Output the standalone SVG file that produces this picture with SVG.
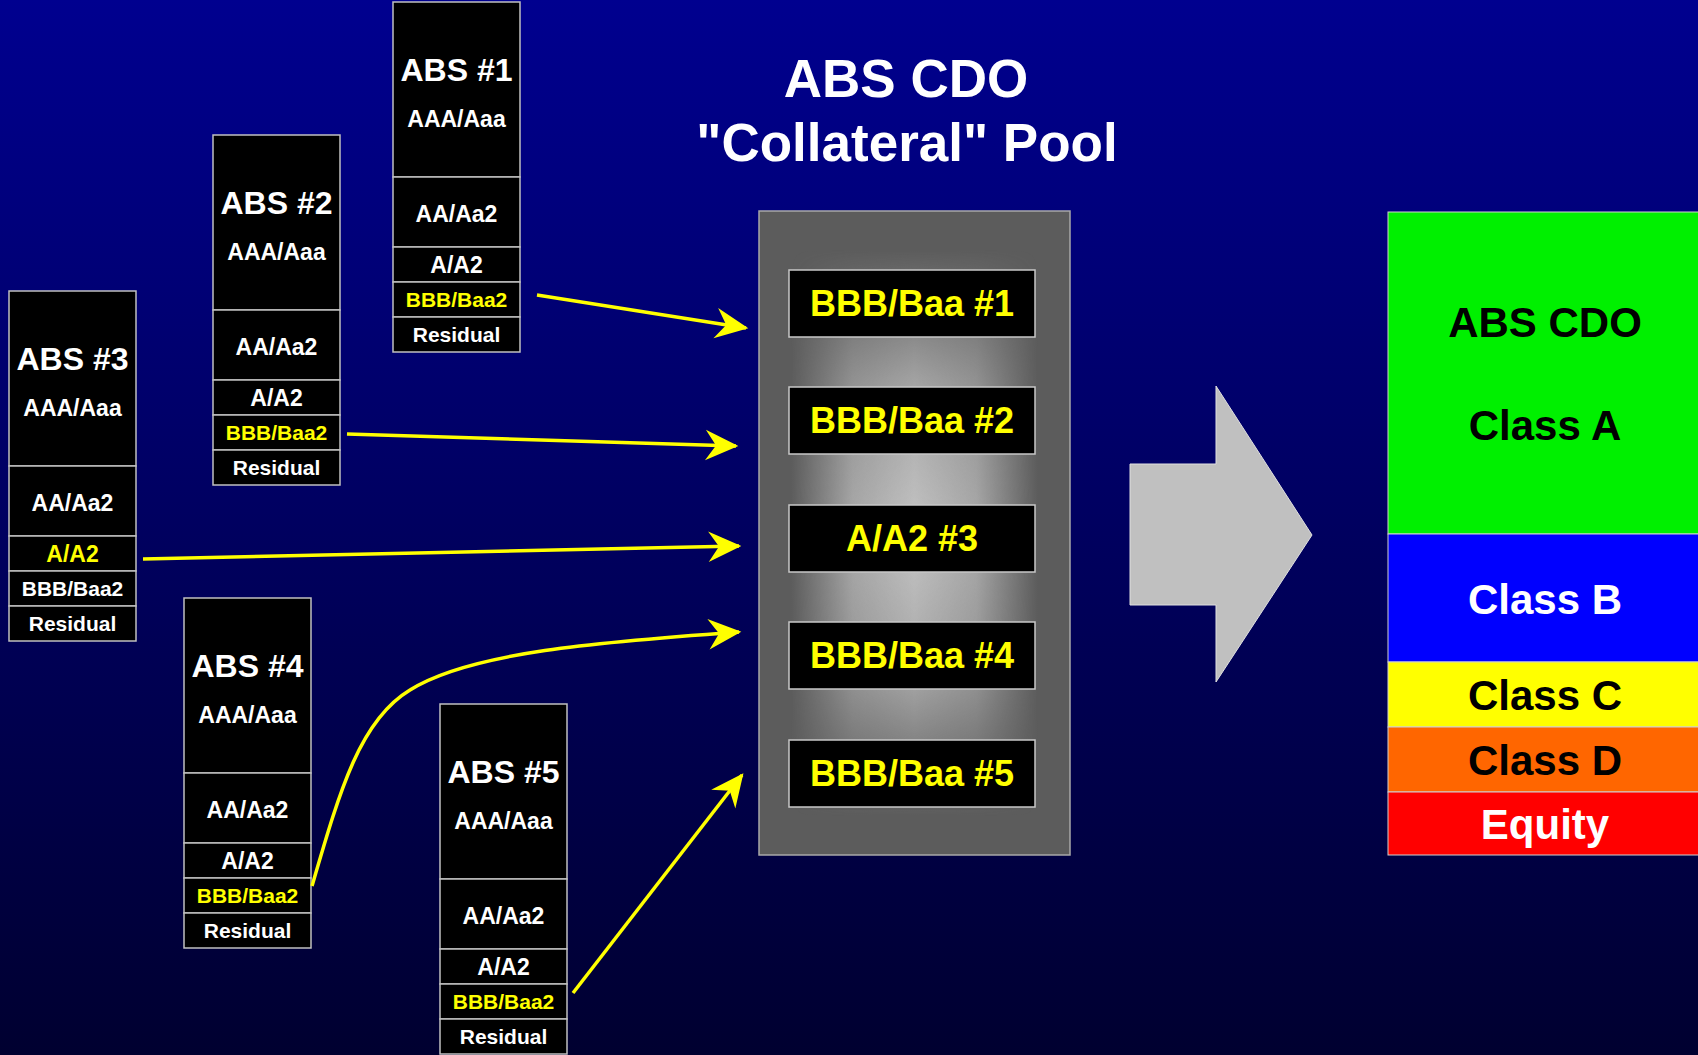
<svg xmlns="http://www.w3.org/2000/svg" width="1698" height="1055" viewBox="0 0 1698 1055">
<style>
text{font-family:"Liberation Sans",Arial,sans-serif;font-weight:bold;text-anchor:middle}
.sec{fill:#000;stroke:#c0c0c0;stroke-width:1.5}
.w{fill:#fff}
.y{fill:#ffff00}
.k{fill:#000}
.t32{font-size:32px}
.t23{font-size:23px}
.t21{font-size:21px}
.t36{font-size:36px}
.t42{font-size:42px}
.t53{font-size:53px}
.conn{fill:none;stroke:#ffff00;stroke-width:3.5;marker-end:url(#ah)}
.pbox{fill:#000;stroke:#c8c8c8;stroke-width:1.5}
.band{stroke:#d0d0d0;stroke-width:1}
</style>
<defs>
<linearGradient id="bg" x1="0" y1="0" x2="0" y2="1">
<stop offset="0" stop-color="#00008f"/>
<stop offset="1" stop-color="#000030"/>
</linearGradient>
<linearGradient id="hx" x1="0" y1="0" x2="1" y2="0">
<stop offset="0" stop-color="#c4c4c4" stop-opacity="0"/>
<stop offset="0.1" stop-color="#c4c4c4" stop-opacity="0"/>
<stop offset="0.3" stop-color="#c4c4c4" stop-opacity="0.75"/>
<stop offset="0.5" stop-color="#c4c4c4" stop-opacity="1"/>
<stop offset="0.7" stop-color="#c4c4c4" stop-opacity="0.75"/>
<stop offset="0.9" stop-color="#c4c4c4" stop-opacity="0"/>
<stop offset="1" stop-color="#c4c4c4" stop-opacity="0"/>
</linearGradient>
<linearGradient id="vy" x1="0" y1="0" x2="0" y2="1">
<stop offset="0" stop-color="#000"/>
<stop offset="0.06" stop-color="#000"/>
<stop offset="0.28" stop-color="#bbb"/>
<stop offset="0.5" stop-color="#fff"/>
<stop offset="0.72" stop-color="#bbb"/>
<stop offset="0.94" stop-color="#000"/>
<stop offset="1" stop-color="#000"/>
</linearGradient>
<mask id="pm" maskUnits="userSpaceOnUse" x="759" y="211" width="311" height="644">
<rect x="759" y="211" width="311" height="644" fill="url(#vy)"/>
</mask>
<marker id="ah" markerUnits="userSpaceOnUse" markerWidth="40" markerHeight="40" viewBox="-30 -15 34 30" refX="0" refY="0" orient="auto">
<path d="M2,0 L-26,-13 L-17,0 L-26,13 Z" fill="#ffff00"/>
</marker>
</defs>
<rect width="1698" height="1055" fill="url(#bg)"/>

<g id="title">
<text class="w t53" x="906" y="97">ABS CDO</text>
<text class="w t53" x="907" y="161">"Collateral" Pool</text>
</g>

<g id="abs1" transform="translate(393,2)">
<rect class="sec" x="0" y="0" width="127" height="175"/>
<rect class="sec" x="0" y="175" width="127" height="70"/>
<rect class="sec" x="0" y="245" width="127" height="35"/>
<rect class="sec" x="0" y="280" width="127" height="35"/>
<rect class="sec" x="0" y="315" width="127" height="35"/>
<text class="w t32" x="63.5" y="79">ABS #1</text>
<text class="w t23" x="63.5" y="125">AAA/Aaa</text>
<text class="w t23" x="63.5" y="220">AA/Aa2</text>
<text class="w t23" x="63.5" y="271">A/A2</text>
<text class="y t21" x="63.5" y="305">BBB/Baa2</text>
<text class="w t21" x="63.5" y="340">Residual</text>
</g>

<g id="abs2" transform="translate(213,135)">
<rect class="sec" x="0" y="0" width="127" height="175"/>
<rect class="sec" x="0" y="175" width="127" height="70"/>
<rect class="sec" x="0" y="245" width="127" height="35"/>
<rect class="sec" x="0" y="280" width="127" height="35"/>
<rect class="sec" x="0" y="315" width="127" height="35"/>
<text class="w t32" x="63.5" y="79">ABS #2</text>
<text class="w t23" x="63.5" y="125">AAA/Aaa</text>
<text class="w t23" x="63.5" y="220">AA/Aa2</text>
<text class="w t23" x="63.5" y="271">A/A2</text>
<text class="y t21" x="63.5" y="305">BBB/Baa2</text>
<text class="w t21" x="63.5" y="340">Residual</text>
</g>

<g id="abs3" transform="translate(9,291)">
<rect class="sec" x="0" y="0" width="127" height="175"/>
<rect class="sec" x="0" y="175" width="127" height="70"/>
<rect class="sec" x="0" y="245" width="127" height="35"/>
<rect class="sec" x="0" y="280" width="127" height="35"/>
<rect class="sec" x="0" y="315" width="127" height="35"/>
<text class="w t32" x="63.5" y="79">ABS #3</text>
<text class="w t23" x="63.5" y="125">AAA/Aaa</text>
<text class="w t23" x="63.5" y="220">AA/Aa2</text>
<text class="y t23" x="63.5" y="271">A/A2</text>
<text class="w t21" x="63.5" y="305">BBB/Baa2</text>
<text class="w t21" x="63.5" y="340">Residual</text>
</g>

<g id="abs4" transform="translate(184,598)">
<rect class="sec" x="0" y="0" width="127" height="175"/>
<rect class="sec" x="0" y="175" width="127" height="70"/>
<rect class="sec" x="0" y="245" width="127" height="35"/>
<rect class="sec" x="0" y="280" width="127" height="35"/>
<rect class="sec" x="0" y="315" width="127" height="35"/>
<text class="w t32" x="63.5" y="79">ABS #4</text>
<text class="w t23" x="63.5" y="125">AAA/Aaa</text>
<text class="w t23" x="63.5" y="220">AA/Aa2</text>
<text class="w t23" x="63.5" y="271">A/A2</text>
<text class="y t21" x="63.5" y="305">BBB/Baa2</text>
<text class="w t21" x="63.5" y="340">Residual</text>
</g>

<g id="abs5" transform="translate(440,704)">
<rect class="sec" x="0" y="0" width="127" height="175"/>
<rect class="sec" x="0" y="175" width="127" height="70"/>
<rect class="sec" x="0" y="245" width="127" height="35"/>
<rect class="sec" x="0" y="280" width="127" height="35"/>
<rect class="sec" x="0" y="315" width="127" height="35"/>
<text class="w t32" x="63.5" y="79">ABS #5</text>
<text class="w t23" x="63.5" y="125">AAA/Aaa</text>
<text class="w t23" x="63.5" y="220">AA/Aa2</text>
<text class="w t23" x="63.5" y="271">A/A2</text>
<text class="y t21" x="63.5" y="305">BBB/Baa2</text>
<text class="w t21" x="63.5" y="340">Residual</text>
</g>

<g id="pool">
<rect x="759" y="211" width="311" height="644" fill="#5c5c5c" stroke="#a8a8a8" stroke-width="1.5"/>
<rect x="760" y="212" width="309" height="642" fill="url(#hx)" mask="url(#pm)"/>
<g id="pool1"><rect class="pbox" x="789" y="270" width="246" height="67"/><text class="y t36" x="912" y="316">BBB/Baa #1</text></g>
<g id="pool2"><rect class="pbox" x="789" y="387" width="246" height="67"/><text class="y t36" x="912" y="433">BBB/Baa #2</text></g>
<g id="pool3"><rect class="pbox" x="789" y="505" width="246" height="67"/><text class="y t36" x="912" y="551">A/A2 #3</text></g>
<g id="pool4"><rect class="pbox" x="789" y="622" width="246" height="67"/><text class="y t36" x="912" y="668">BBB/Baa #4</text></g>
<g id="pool5"><rect class="pbox" x="789" y="740" width="246" height="67"/><text class="y t36" x="912" y="786">BBB/Baa #5</text></g>
</g>

<g id="bigarrow">
<polygon points="1130,464 1216,464 1216,386 1312,535 1216,682 1216,605 1130,605" fill="#c0c0c0" stroke="#e0e0e0" stroke-width="1"/>
</g>

<g id="cdo">
<rect x="1388" y="212" width="312" height="322" fill="#00f000" class="band"/>
<rect x="1388" y="534" width="312" height="128" fill="#0000ff" class="band"/>
<rect x="1388" y="662" width="312" height="65" fill="#ffff00" class="band"/>
<rect x="1388" y="727" width="312" height="65" fill="#ff6600" class="band"/>
<rect x="1388" y="792" width="312" height="63" fill="#ff0000" class="band"/>
<text class="k t42" x="1545" y="337">ABS CDO</text>
<text class="k t42" x="1545" y="440">Class A</text>
<text class="w t42" x="1545" y="614">Class B</text>
<text class="k t42" x="1545" y="710">Class C</text>
<text class="k t42" x="1545" y="775">Class D</text>
<text class="w t42" x="1545" y="839">Equity</text>
</g>

<g id="connectors">
<path class="conn" d="M537,295 L746,328"/>
<path class="conn" d="M347,434 L736,446"/>
<path class="conn" d="M143,559 L739,546"/>
<path class="conn" d="M312,886 C340,790 360,720 410,690 C470,652 600,642 739,632"/>
<path class="conn" d="M573,993 L742,775"/>
</g>
</svg>
